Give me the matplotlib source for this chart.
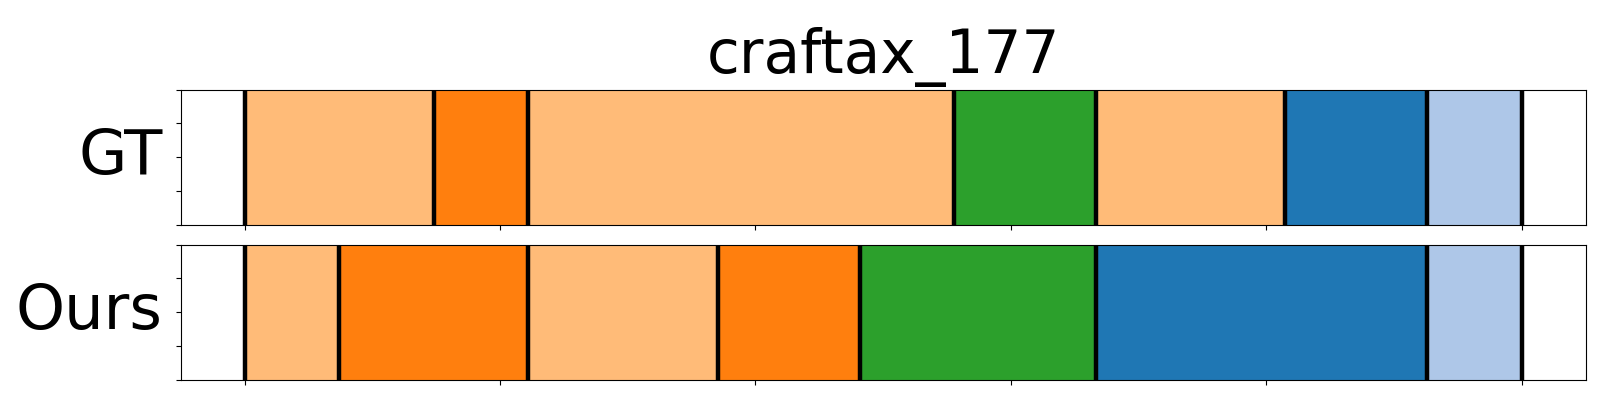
"""Segment timeline for craftax_177: ground truth vs our prediction."""

import matplotlib
matplotlib.use("Agg")
import matplotlib.pyplot as plt
import numpy as np

TITLE = "craftax_177"
NUM_FRAMES = 27

ROW_LABELS = ["GT", "Ours"]
GT_LENGTHS = [4, 2, 9, 3, 4, 3, 2]
GT_COLORS = ["#ffbb78", "#ff7f0e", "#ffbb78", "#2ca02c", "#ffbb78", "#1f77b4", "#aec7e8"]
OURS_LENGTHS = [2, 4, 4, 3, 5, 7, 2]
OURS_COLORS = ["#ffbb78", "#ff7f0e", "#ffbb78", "#ff7f0e", "#2ca02c", "#1f77b4", "#aec7e8"]


def _draw_row(ax, lengths, colors, label):
    bounds = np.concatenate([[0], np.cumsum(lengths)]) / NUM_FRAMES
    for left, right, color in zip(bounds[:-1], bounds[1:], colors):
        ax.barh(0.5, right - left, left=left, height=1.0, color=color, linewidth=0)
    for b in bounds:
        ax.axvline(b, color="black", linewidth=3.2)
    ax.set_xlim(-0.05, 1.05)
    ax.set_ylim(0, 1)
    ax.set_xticks(np.linspace(0, 1, 6))
    ax.set_yticks(np.linspace(0, 1, 5))
    ax.set_xticklabels([])
    ax.set_yticklabels([])
    ax.set_ylabel(label, fontsize=45, rotation=0, ha="right", va="center", labelpad=6)


def main() -> None:
    fig = plt.figure(figsize=(16, 4), dpi=100)
    ax_gt = fig.add_axes([0.113, 0.4385, 0.878, 0.3375])
    ax_ours = fig.add_axes([0.113, 0.051, 0.878, 0.3375])
    _draw_row(ax_gt, GT_LENGTHS, GT_COLORS, ROW_LABELS[0])
    _draw_row(ax_ours, OURS_LENGTHS, OURS_COLORS, ROW_LABELS[1])
    ax_gt.set_title(TITLE, fontsize=43, pad=12)
    fig.savefig("out.png", dpi=100)
    plt.close(fig)


if __name__ == "__main__":
    main()
